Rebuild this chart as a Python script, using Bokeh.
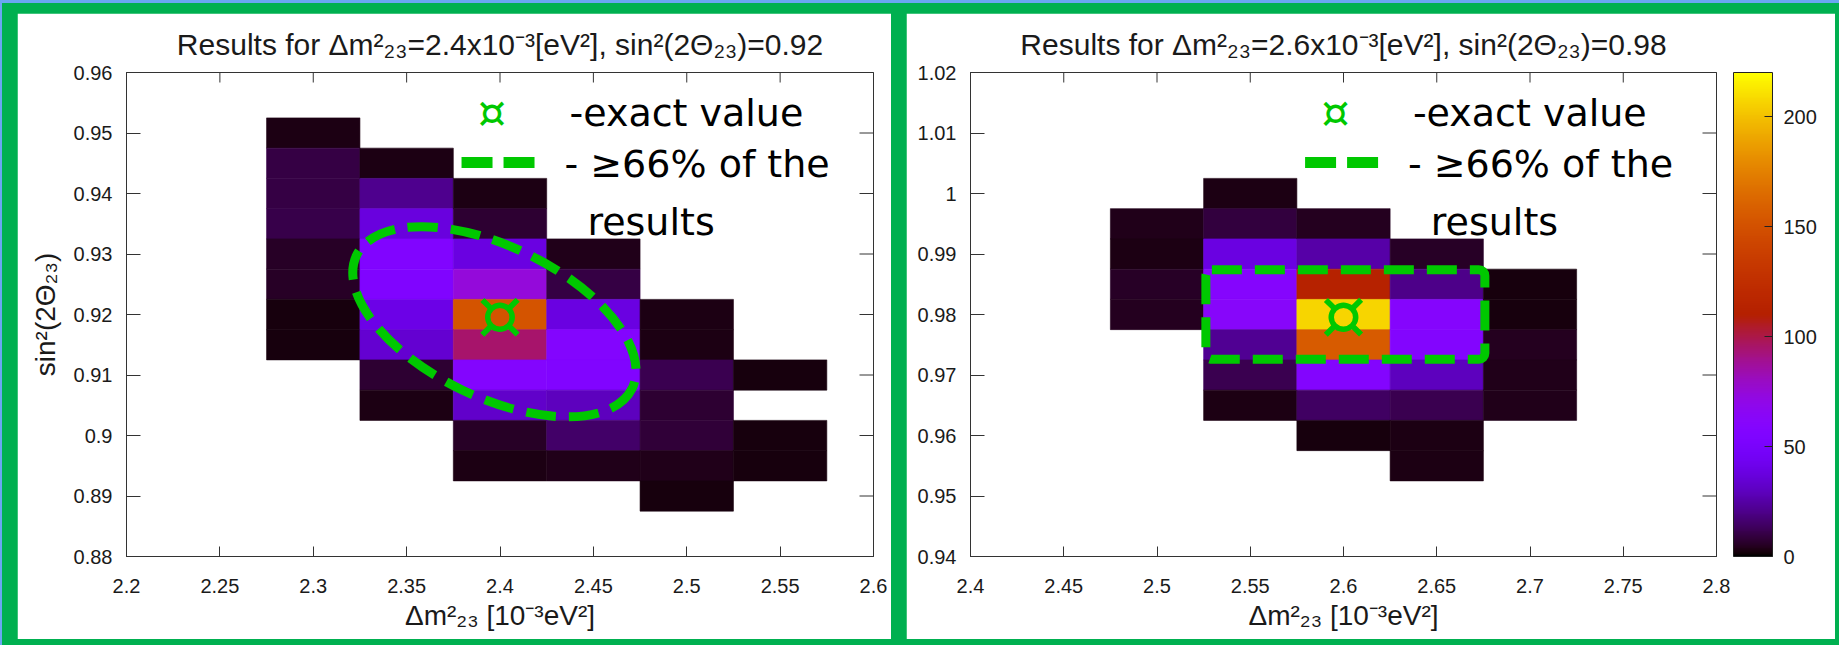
import numpy as np
from bokeh.plotting import figure
from bokeh.models import (Range1d, FixedTicker, LinearColorMapper, ColorBar, Label)
from bokeh.layouts import row
from bokeh.embed import file_html
from bokeh.resources import INLINE
from bokeh.core.properties import value
from bokeh.transform import linear_cmap

# ---------------- data ----------------
# Left panel: true point dm2=2.4e-3, sin^2(2theta)=0.92
left_dm = [2.30, 2.30, 2.30, 2.30, 2.30, 2.30, 2.30, 2.30,
           2.35, 2.35, 2.35, 2.35, 2.35, 2.35, 2.35, 2.35, 2.35,
           2.40, 2.40, 2.40, 2.40, 2.40, 2.40, 2.40, 2.40, 2.40, 2.40,
           2.45, 2.45, 2.45, 2.45, 2.45, 2.45, 2.45, 2.45,
           2.50, 2.50, 2.50, 2.50, 2.50, 2.50, 2.50,
           2.55, 2.55, 2.55]
left_s2 = [0.950, 0.945, 0.940, 0.935, 0.930, 0.925, 0.920, 0.915,
           0.945, 0.940, 0.935, 0.930, 0.925, 0.920, 0.915, 0.910, 0.905,
           0.940, 0.935, 0.930, 0.925, 0.920, 0.915, 0.910, 0.905, 0.900, 0.895,
           0.930, 0.925, 0.920, 0.915, 0.910, 0.905, 0.900, 0.895,
           0.920, 0.915, 0.910, 0.905, 0.900, 0.895, 0.890,
           0.910, 0.900, 0.895]
left_count = [3, 10, 10, 11, 6, 6, 2, 2,
              3, 21, 37, 56, 55, 40, 34, 7, 3,
              3, 7, 38, 74, 152, 95, 58, 32, 6, 3,
              4, 10, 38, 58, 56, 30, 15, 4,
              3, 3, 12, 7, 8, 4, 2,
              2, 2, 2]

# Right panel: true point dm2=2.6e-3, sin^2(2theta)=0.98
right_dm = [2.50, 2.50, 2.50, 2.50,
            2.55, 2.55, 2.55, 2.55, 2.55, 2.55, 2.55, 2.55,
            2.60, 2.60, 2.60, 2.60, 2.60, 2.60, 2.60, 2.60,
            2.65, 2.65, 2.65, 2.65, 2.65, 2.65, 2.65, 2.65,
            2.70, 2.70, 2.70, 2.70, 2.70]
right_s2 = [0.995, 0.990, 0.985, 0.980,
            1.000, 0.995, 0.990, 0.985, 0.980, 0.975, 0.970, 0.965,
            0.995, 0.990, 0.985, 0.980, 0.975, 0.970, 0.965, 0.960,
            0.990, 0.985, 0.980, 0.975, 0.970, 0.965, 0.960, 0.955,
            0.985, 0.980, 0.975, 0.970, 0.965]
right_count = [4, 3, 6, 5,
               3, 9, 38, 60, 62, 22, 12, 3,
               5, 25, 112, 207, 156, 58, 14, 2,
               6, 20, 60, 58, 30, 12, 3, 3,
               2, 2, 5, 4, 4]

exact_dm = [2.40, 2.60]
exact_s2 = [0.92, 0.98]

left_title = "Results for Δm²₂₃=2.4x10⁻³[eV²], sin²(2Θ₂₃)=0.92"
right_title = "Results for Δm²₂₃=2.6x10⁻³[eV²], sin²(2Θ₂₃)=0.98"

left_xticks = [2.2, 2.25, 2.3, 2.35, 2.4, 2.45, 2.5, 2.55, 2.6]
left_xlabels = ["2.2", "2.25", "2.3", "2.35", "2.4", "2.45", "2.5", "2.55", "2.6"]
left_yticks = [0.88, 0.89, 0.90, 0.91, 0.92, 0.93, 0.94, 0.95, 0.96]
left_ylabels = ["0.88", "0.89", "0.9", "0.91", "0.92", "0.93", "0.94", "0.95", "0.96"]
right_xticks = [2.4, 2.45, 2.5, 2.55, 2.6, 2.65, 2.7, 2.75, 2.8]
right_xlabels = ["2.4", "2.45", "2.5", "2.55", "2.6", "2.65", "2.7", "2.75", "2.8"]
right_yticks = [0.94, 0.95, 0.96, 0.97, 0.98, 0.99, 1.00, 1.01, 1.02]
right_ylabels = ["0.94", "0.95", "0.96", "0.97", "0.98", "0.99", "1", "1.01", "1.02"]
cb_ticks = [0, 50, 100, 150, 200]

bin_w = 0.05
bin_h = 0.005

# ---------------- styling ----------------
GREEN = "#00C800"
FRAME_GREEN = "#00B050"
BLUE = "#6AA6F2"
AX = "#333333"
TXT = "#1a1a1a"
FONT = "Liberation Sans"


def gnuplot_palette(n=256):
    cols = []
    for i in range(n):
        t = i / (n - 1)
        r = np.sqrt(t)
        g = t ** 3
        b = max(0.0, np.sin(2 * np.pi * t))
        cols.append("#%02x%02x%02x" % (int(round(r * 255)), int(round(g * 255)), int(round(b * 255))))
    return cols


PAL = gnuplot_palette()
mapper = LinearColorMapper(palette=PAL, low=0, high=220)


def make_panel(dm, s2, cnt, xr, yr, xt, xl, yt, yl, title, width,
               mb_left, mb_right, ylabel=None):
    p = figure(width=width, height=626, x_range=Range1d(*xr), y_range=Range1d(*yr),
               output_backend="svg", toolbar_location=None,
               min_border_left=mb_left, min_border_right=mb_right,
               min_border_top=59, min_border_bottom=83,
               background_fill_color="white", border_fill_color="white")
    p.grid.visible = False
    p.outline_line_color = AX
    p.outline_line_width = 1

    p.title.text = title
    p.title.align = "center"
    p.title.text_font = FONT
    p.title.text_font_size = "30px"
    p.title.text_font_style = "normal"
    p.title.text_color = TXT
    p.title.standoff = 24

    src = dict(x=dm, y=s2, c=cnt)
    cm = linear_cmap("c", PAL, 0, 220)
    p.rect(x="x", y="y", width=bin_w, height=bin_h, source=src,
           fill_color=cm, line_color=cm, line_width=0.6)

    for ax, ticks, labels, tin in ((p.xaxis[0], xt, xl, 10), (p.yaxis[0], yt, yl, 14)):
        ax.ticker = FixedTicker(ticks=ticks)
        ax.major_label_overrides = {t: s for t, s in zip(ticks, labels)}
        ax.major_tick_in = tin
        ax.major_tick_out = 0
        ax.minor_tick_in = 0
        ax.minor_tick_out = 0
        ax.axis_line_color = AX
        ax.major_tick_line_color = AX
        ax.major_label_text_font = FONT
        ax.major_label_text_font_size = "20px"
        ax.major_label_text_color = TXT
    p.xaxis[0].major_label_standoff = 22
    p.yaxis[0].major_label_standoff = 14

    p.xaxis[0].axis_label = "Δm²₂₃ [10⁻³eV²]"
    p.xaxis[0].axis_label_text_font = FONT
    p.xaxis[0].axis_label_text_font_size = "28px"
    p.xaxis[0].axis_label_text_font_style = "normal"
    p.xaxis[0].axis_label_text_color = TXT
    p.xaxis[0].axis_label_standoff = 4
    if ylabel:
        p.yaxis[0].axis_label = ylabel
        p.yaxis[0].axis_label_text_font = FONT
        p.yaxis[0].axis_label_text_font_size = "28px"
        p.yaxis[0].axis_label_text_font_style = "normal"
        p.yaxis[0].axis_label_text_color = TXT
        p.yaxis[0].axis_label_standoff = 10

    # mirror tick marks on top and right edges (half of each dash is clipped by the frame)
    p.scatter(x=xt, y=[yr[1]] * len(xt), marker="dash", size=20, angle=np.pi / 2,
              line_color=AX, line_width=1)
    p.scatter(x=[xr[1]] * len(yt), y=yt, marker="dash", size=28, angle=0,
              line_color=AX, line_width=1)
    return p


p1 = make_panel(left_dm, left_s2, left_count, (2.2, 2.6), (0.88, 0.96),
                left_xticks, left_xlabels, left_yticks, left_ylabels, left_title,
                874, 109, 18, ylabel="sin²(2Θ₂₃)")
p2 = make_panel(right_dm, right_s2, right_count, (2.4, 2.8), (0.94, 1.02),
                right_xticks, right_xlabels, right_yticks, right_ylabels, right_title,
                929, 64, 119)

# colour bar: placed by pixel offset from the frame's bottom-left corner
cb = ColorBar(color_mapper=mapper, ticker=FixedTicker(ticks=cb_ticks), width=39,
              height=484, location=(763, 0), margin=0, padding=0,
              major_tick_in=8, major_tick_out=0,
              major_tick_line_color="#222222", bar_line_color="#222222",
              border_line_color=None, background_fill_color=None,
              major_label_text_font=FONT, major_label_text_font_size="20px",
              major_label_text_color=TXT, label_standoff=11)
p2.add_layout(cb)

# ---------------- annotations ----------------
def frac_x(xr, f):
    return xr[0] + f * (xr[1] - xr[0])


def frac_y(yr, f):
    return yr[1] - f * (yr[1] - yr[0])


def legend_block(p, xr, yr):
    p.text(x=[frac_x(xr, 0.4893)], y=[frac_y(yr, 0.0826)], text=["¤"],
           text_align="center", text_baseline="middle", text_font_size="44px",
           text_font=value("DejaVu Sans"), text_color=GREEN)
    for fx, fy, s in ((0.593, 0.0845, "-exact value"), (0.5863, 0.190, "- ≥66% of the"),
                      (0.617, 0.308, "results")):
        p.add_layout(Label(x=frac_x(xr, fx), y=frac_y(yr, fy), text=s,
                           text_font="DejaVu Sans", text_font_size="38px",
                           text_color="black", text_baseline="alphabetic"))
    p.segment(x0=[frac_x(xr, 0.4485)], y0=[frac_y(yr, 0.186)],
              x1=[frac_x(xr, 0.5475)], y1=[frac_y(yr, 0.186)],
              line_color=GREEN, line_width=11, line_dash="31 11")


legend_block(p1, (2.2, 2.6), (0.88, 0.96))
legend_block(p2, (2.4, 2.8), (0.94, 1.02))

# 66% contours
p1.ellipse(x=[2.397], y=[0.9188], width=0.1639, height=0.02496, angle=-0.45,
           fill_color=None, line_color=GREEN, line_width=9, line_dash="30 13")
p2.rect(x=[2.601], y=[0.980], width=0.1496, height=0.0148,
        fill_color=None, line_color=GREEN, line_width=9, line_dash="30 13",
        border_radius=6)

# exact values
for p, xe, ye in ((p1, exact_dm[0], exact_s2[0]), (p2, exact_dm[1], exact_s2[1])):
    p.text(x=[xe], y=[ye], text=["¤"], text_align="center",
           text_baseline="middle", text_font_size="72px",
           text_font=value("DejaVu Sans"), text_color=GREEN)

layout = row(p1, p2, spacing=15,
             styles={"background-color": FRAME_GREEN,
                     "border-top": "3px solid " + BLUE,
                     "border-left": "2px solid " + BLUE,
                     "padding": "10px 4px 6px 15px"})

open("out.html", "w").write(file_html(layout, INLINE))
